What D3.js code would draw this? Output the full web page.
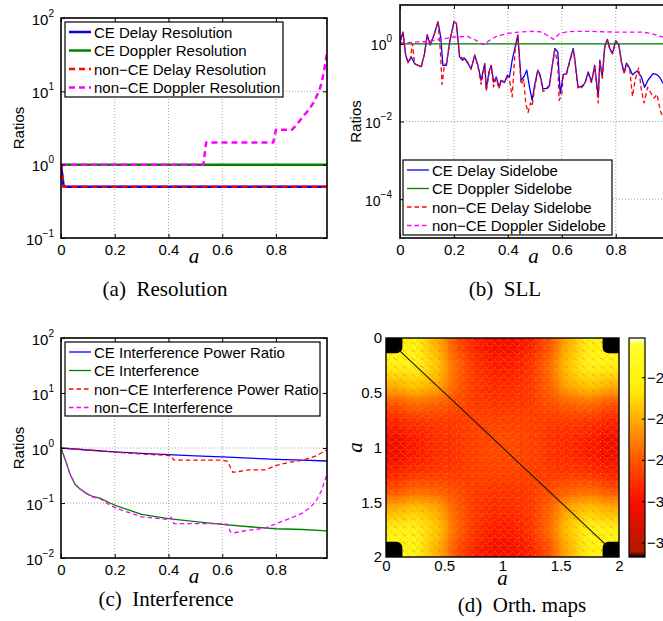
<!DOCTYPE html>
<html>
<head>
<meta charset="utf-8">
<script src="https://cdn.jsdelivr.net/npm/d3@7"></script>
<style>
  body { margin: 0; background: #fff; }
  svg { display: block; }
</style>
</head>
<body>
<script>
// ---------- data ----------
const aTicks = [0, 0.2, 0.4, 0.6, 0.8];

// (a) Resolution
const resDelayA = [0, 0.01, 0.99];
const ceDelayRes = [1, 0.5, 0.5];
const nonCeDelayRes = [1, 0.5, 0.5];
const ceDopplerResA = [0, 0.99];
const ceDopplerRes = [1, 1];
const nonCeDopplerResA = [0, 0.53, 0.54, 0.79, 0.80, 0.86, 0.88, 0.90, 0.92, 0.94, 0.96, 0.97, 0.98, 0.99];
const nonCeDopplerRes = [1, 1, 2, 2, 3, 3, 3.6, 4.5, 5.5, 7, 10, 13, 20, 33];

// (b) SLL
const ceDelaySllA = [
  0, .011, .021, .030, .042, .054, .067, .079, .091, .101,
  .112, .128, .141, .151, .159, .172, .184, .200, .209, .221,
  .231, .240, .252, .264, .277, .289, .301, .314, .320, .330,
  .338, .347, .357, .367, .375, .388, .398, .406, .416, .427,
  .437, .449, .459, .470, .480, .490, .499, .511, .520, .530,
  .542, .554, .564, .574, .585, .594, .605, .617, .630, .642,
  .648, .660, .673, .685, .698, .710, .722, .735, .741, .750,
  .759, .769, .778, .788, .800, .812, .821, .831, .840, .852,
  .862, .879, .895, .907, .920, .938, .953, .963, .974, .990];
const ceDelaySll = [
  1.1, 2.0, 0.51, 0.34, 0.46, 0.31, 0.28, 0.26, 0.56, 1.7,
  0.93, 1.85, 3.7, 1.5, 0.28, 0.28, 1.1, 3.7, 3.4, 0.46,
  0.38, 0.42, 0.31, 0.23, 0.51, 0.28, 0.115, 0.31, 0.07, 0.19,
  0.28, 0.104, 0.14, 0.078, 0.115, 0.104, 0.155, 0.14, 0.38, 0.83,
  1.7, 0.115, 0.14, 0.21, 0.078, 0.035, 0.085, 0.21, 0.155, 0.07,
  0.07, 0.085, 0.26, 0.76, 0.62, 0.052, 0.16, 0.17, 0.38, 0.76,
  0.42, 0.076, 0.08, 0.096, 0.19, 0.105, 0.28, 0.044, 0.38, 0.14,
  0.85, 1.3, 0.76, 0.57, 1.2, 0.93, 0.35, 0.18, 0.32, 0.23,
  0.16, 0.20, 0.14, 0.076, 0.117, 0.17, 0.16, 0.137, 0.10, 0.08];
const ceDopplerSllA = [0, 0.99];
const ceDopplerSll = [1, 1];
const nonCeDelaySllA = [
  0, .011, .021, .030, .038, .046, .054, .067, .079, .091,
  .101, .112, .128, .141, .150, .156, .165, .172, .184, .200,
  .209, .221, .231, .240, .252, .264, .277, .289, .301, .314,
  .320, .330, .338, .347, .357, .367, .375, .388, .398, .406,
  .416, .427, .437, .449, .459, .466, .475, .484, .490, .499,
  .511, .520, .530, .542, .554, .564, .574, .585, .590, .600,
  .605, .617, .630, .642, .648, .660, .673, .685, .698, .710,
  .722, .735, .741, .750, .759, .769, .778, .788, .800, .812,
  .821, .831, .840, .852, .862, .872, .885, .895, .905, .918,
  .930, .942, .953, .965, .974, .990];
const nonCeDelaySll = [
  1.1, 2.0, 0.5, 0.32, 0.4, 1.0, 0.3, 0.28, 0.26, 0.56,
  1.7, 0.93, 1.85, 3.7, 0.6, 0.09, 0.3, 0.3, 1.1, 3.7,
  3.4, 0.5, 0.42, 0.45, 0.33, 0.22, 0.51, 0.26, 0.09, 0.31,
  0.06, 0.17, 0.28, 0.078, 0.13, 0.07, 0.11, 0.1, 0.14, 0.12,
  0.043, 0.7, 1.6, 0.09, 0.12, 0.03, 0.017, 0.03, 0.025, 0.07,
  0.2, 0.14, 0.06, 0.065, 0.08, 0.25, 0.7, 0.3, 0.035, 0.05,
  0.15, 0.16, 0.35, 0.7, 0.38, 0.07, 0.075, 0.09, 0.17, 0.1,
  0.25, 0.03, 0.35, 0.13, 0.8, 1.3, 0.7, 0.55, 1.2, 0.9,
  0.33, 0.17, 0.3, 0.21, 0.044, 0.12, 0.24, 0.065, 0.03, 0.076,
  0.055, 0.04, 0.05, 0.019, 0.014, 0.009];
const nonCeDopplerSllA = [0, .05, .10, .15, .20, .25, .28, .31, .33, .36, .40, .44, .48, .52, .55, .57, .59, .62, .66, .70, .75, .80, .85, .90, .93, .96, .99];
const nonCeDopplerSll = [1.05, 1.1, 1.15, 1.3, 1.5, 1.55, 1.25, 0.95, 1.2, 1.6, 1.85, 2.0, 2.1, 2.05, 1.6, 1.3, 1.8, 2.05, 2.1, 2.1, 2.05, 2.0, 2.0, 2.0, 1.85, 1.6, 1.4];

// (c) Interference
const cePowerRatioA = [0, 0.1, 0.2, 0.3, 0.4, 0.5, 0.6, 0.7, 0.8, 0.9, 0.99];
const cePowerRatio = [1.0, 0.92, 0.85, 0.80, 0.76, 0.72, 0.69, 0.655, 0.62, 0.60, 0.58];
const ceInterfA = [0, .021, .033, .052, .071, .096, .114, .145, .182, .207, .3, .4, .5, .6, .7, .8, .9, .99];
const ceInterf = [1.0, 0.52, 0.34, 0.22, 0.18, 0.148, 0.134, 0.123, 0.10, 0.089, 0.062, 0.052, 0.046, 0.041, 0.037, 0.034, 0.033, 0.031];
const nonCePowerRatioA = [0, 0.1, 0.2, 0.3, 0.4, 0.41, 0.42, 0.5, 0.6, 0.62, 0.63, 0.64, 0.7, 0.76, 0.8, 0.85, 0.9, 0.95, 0.99];
const nonCePowerRatio = [1.0, 0.92, 0.84, 0.78, 0.73, 0.72, 0.6, 0.6, 0.6, 0.57, 0.45, 0.36, 0.40, 0.40, 0.48, 0.55, 0.60, 0.72, 0.93];
const nonCeInterfA = [0, .021, .033, .052, .071, .096, .114, .145, .182, .207, .3, .35, .4, .41, .42, .5, .6, .62, .63, .64, .7, .76, .8, .85, .9, .93, .95, .97, .99];
const nonCeInterf = [1.0, 0.52, 0.34, 0.22, 0.18, 0.148, 0.13, 0.12, 0.092, 0.08, 0.056, 0.053, 0.05, 0.055, 0.042, 0.042, 0.042, 0.041, 0.03, 0.0285, 0.032, 0.035, 0.042, 0.052, 0.066, 0.085, 0.11, 0.17, 0.34];

// (d) Orth. maps, coarse 12x12 reading (dB), rows a = 0 -> 2
const orthMap = [
  [-34, -23.5, -25.8, -28.3, -29.6, -30.3, -30.3, -29.6, -28.3, -25.8, -23.5, -34],
  [-23.5, -23.3, -25.2, -27.6, -29.1, -29.7, -29.7, -29.1, -27.6, -25.2, -23.3, -23.5],
  [-25.8, -25.2, -25.8, -27.8, -28.9, -29.3, -29.3, -28.9, -27.8, -25.8, -25.2, -25.8],
  [-28.3, -27.6, -27.8, -28.3, -28.9, -29.1, -29.1, -28.9, -28.3, -27.8, -27.6, -28.3],
  [-29.6, -29.1, -28.9, -28.9, -28.7, -28.7, -28.7, -28.7, -28.9, -28.9, -29.1, -29.6],
  [-30.5, -29.7, -29.3, -29.1, -28.7, -28.5, -28.5, -28.7, -29.1, -29.3, -29.7, -30.5],
  [-30.5, -29.7, -29.3, -29.1, -28.7, -28.5, -28.5, -28.7, -29.1, -29.3, -29.7, -30.5],
  [-29.6, -29.1, -28.9, -28.9, -28.7, -28.7, -28.7, -28.7, -28.9, -28.9, -29.1, -29.6],
  [-28.3, -27.6, -27.8, -28.3, -28.9, -29.1, -29.1, -28.9, -28.3, -27.8, -27.6, -28.3],
  [-25.8, -25.2, -25.8, -27.8, -28.9, -29.3, -29.3, -28.9, -27.8, -25.8, -25.2, -25.8],
  [-23.5, -23.3, -25.2, -27.6, -29.1, -29.7, -29.7, -29.1, -27.6, -25.2, -23.3, -23.5],
  [-34, -23.5, -25.8, -28.3, -29.6, -30.3, -30.3, -29.6, -28.3, -25.8, -23.5, -34]
];
const diagA = [0.1, 1.9];
const mapTicks = [0, 0.5, 1, 1.5, 2];
const cbDomain = [-32.7, -22.1];
const cbTicks = [-24, -26, -28, -30, -32];
const cbStops = [-32.7, -32.45, -30, -28, -26, -24.6, -22.4, -22.1];
const cbColors = ['#000000', '#b01800', '#ff0c00', '#ff5800', '#ffae00', '#ffee00', '#ffff30', '#ffffff'];

// ---------- drawing ----------
const W = 663, H = 621;
const sans = '"Liberation Sans", Arial, Helvetica, sans-serif';
const serif = '"Liberation Serif", "Times New Roman", serif';

const svg = d3.select('body').append('svg')
  .attr('width', W).attr('height', H)
  .style('font-family', sans);
svg.append('rect').attr('width', W).attr('height', H).attr('fill', '#fff');
const defs = svg.append('defs');

function expText(sel, e) {
  sel.text(null);
  sel.append('tspan').text('10');
  sel.append('tspan').attr('dy', -8).attr('font-size', 10)
    .text(e < 0 ? '\u2212' + (-e) : String(e));
}

function logPanel(p) {
  const x = d3.scaleLinear().domain([0, 0.99]).range([p.left, p.right]);
  const y = d3.scaleLog().domain(p.yDomain).range([p.bottom, p.top]);
  const g = svg.append('g');

  defs.append('clipPath').attr('id', 'clip-' + p.id).append('rect')
    .attr('x', p.left).attr('y', p.top)
    .attr('width', p.right - p.left).attr('height', p.bottom - p.top);

  // grid
  const grid = g.append('g').attr('stroke', '#8c8c8c').attr('stroke-width', 0.8)
    .attr('stroke-dasharray', '1 2');
  grid.selectAll('.gx').data(aTicks.filter(t => t > 0)).join('line')
    .attr('x1', d => x(d)).attr('x2', d => x(d)).attr('y1', p.top).attr('y2', p.bottom);
  grid.selectAll('.gy').data(p.yTicks.filter(t => t > p.yDomain[0] && t < p.yDomain[1])).join('line')
    .attr('y1', d => y(d)).attr('y2', d => y(d)).attr('x1', p.left).attr('x2', p.right);

  // series
  const line = d3.line().x(d => x(d[0])).y(d => y(d[1]));
  const plot = g.append('g').attr('clip-path', `url(#clip-${p.id})`);
  p.series.forEach(s => {
    plot.append('path').datum(d3.zip(s.a, s.v))
      .attr('d', line).attr('fill', 'none')
      .attr('stroke', s.color).attr('stroke-width', p.lw)
      .attr('stroke-dasharray', s.dash ? p.dash : null)
      .attr('stroke-linejoin', 'round');
  });

  // axes
  const bx = g.append('g').attr('transform', `translate(0,${p.bottom})`)
    .call(d3.axisBottom(x).tickValues(aTicks).tickSize(-4).tickSizeOuter(0).tickPadding(6)
      .tickFormat(d => d === 0 ? '0' : d3.format('.1f')(d)));
  bx.select('.domain').remove();
  bx.selectAll('text').attr('font-size', 15).attr('font-family', sans);
  g.append('g').attr('transform', `translate(0,${p.top})`)
    .call(d3.axisTop(x).tickValues(aTicks).tickSize(-4).tickSizeOuter(0).tickFormat(''))
    .call(a => a.select('.domain').remove());
  const ly = g.append('g').attr('transform', `translate(${p.left},0)`)
    .call(d3.axisLeft(y).tickValues(p.yTicks).tickSize(-4).tickSizeOuter(0).tickPadding(p.yPad));
  ly.select('.domain').remove();
  ly.selectAll('text').attr('font-size', p.yFont).attr('font-family', sans)
    .attr('dy', 6).each(function (d) { expText(d3.select(this), Math.round(Math.log10(d))); });
  g.append('g').attr('transform', `translate(${p.right},0)`)
    .call(d3.axisRight(y).tickValues(p.yTicks).tickSize(-4).tickSizeOuter(0).tickFormat(''))
    .call(a => a.select('.domain').remove());
  g.selectAll('.tick line').attr('stroke', '#000').attr('stroke-width', 1);

  g.append('rect').attr('x', p.left).attr('y', p.top)
    .attr('width', p.right - p.left).attr('height', p.bottom - p.top)
    .attr('fill', 'none').attr('stroke', '#000').attr('stroke-width', 1.6);

  // legend
  const L = p.legend;
  const lg = g.append('g');
  lg.append('rect').attr('x', L.x).attr('y', L.y).attr('width', L.w).attr('height', L.h)
    .attr('fill', '#fff').attr('stroke', '#000').attr('stroke-width', 1.2);
  p.series.forEach((s, i) => {
    const yy = L.y + 10 + i * 18.5;
    lg.append('line').attr('x1', L.x + 4).attr('x2', L.x + 26).attr('y1', yy).attr('y2', yy)
      .attr('stroke', s.color).attr('stroke-width', p.lw)
      .attr('stroke-dasharray', s.dash ? p.dash : null);
    lg.append('text').attr('x', L.x + 29).attr('y', yy + 5.5)
      .attr('font-size', 15).text(s.name);
  });

  // labels
  svg.append('text').attr('transform', `translate(${p.ylabX},${(p.top + p.bottom) / 2}) rotate(-90)`)
    .attr('text-anchor', 'middle').attr('font-size', 15).text('Ratios');
  svg.append('text').attr('x', (p.left + p.right) / 2).attr('y', p.xlabY)
    .attr('text-anchor', 'middle').attr('font-family', serif).attr('font-style', 'italic')
    .attr('font-size', 21).text('a');
  svg.append('text').attr('x', p.capX).attr('y', p.capY)
    .attr('text-anchor', 'middle').attr('font-family', serif).attr('font-size', 21)
    .style('white-space', 'pre').text(p.caption);
}

logPanel({
  id: 'a', left: 61, right: 327, top: 18, bottom: 238,
  yDomain: [0.1, 100], yTicks: [0.1, 1, 10, 100], yPad: 7, yFont: 15,
  lw: 2.5, dash: '6 4',
  series: [
    { name: 'CE Delay Resolution', a: resDelayA, v: ceDelayRes, color: '#0000ff' },
    { name: 'CE Doppler Resolution', a: ceDopplerResA, v: ceDopplerRes, color: '#008000' },
    { name: 'non\u2212CE Delay Resolution', a: resDelayA, v: nonCeDelayRes, color: '#ff0000', dash: true },
    { name: 'non\u2212CE Doppler Resolution', a: nonCeDopplerResA, v: nonCeDopplerRes, color: '#ff00ff', dash: true }
  ],
  legend: { x: 65, y: 22, w: 218, h: 75 },
  ylabX: 24, xlabY: 263, capX: 165, capY: 296, caption: '(a)  Resolution'
});

logPanel({
  id: 'b', left: 400, right: 667, top: 5, bottom: 238,
  yDomain: [1e-5, 10], yTicks: [1e-4, 1e-2, 1], yPad: 8, yFont: 14,
  lw: 1.3, dash: '4.5 3',
  series: [
    { name: 'CE Delay Sidelobe', a: ceDelaySllA, v: ceDelaySll, color: '#0000ff' },
    { name: 'CE Doppler Sidelobe', a: ceDopplerSllA, v: ceDopplerSll, color: '#008000' },
    { name: 'non\u2212CE Delay Sidelobe', a: nonCeDelaySllA, v: nonCeDelaySll, color: '#ff0000', dash: true },
    { name: 'non\u2212CE Doppler Sidelobe', a: nonCeDopplerSllA, v: nonCeDopplerSll, color: '#ff00ff', dash: true }
  ],
  legend: { x: 403, y: 160, w: 209, h: 75 },
  ylabX: 361, xlabY: 263, capX: 505, capY: 296, caption: '(b)  SLL'
});

logPanel({
  id: 'c', left: 61, right: 327, top: 338, bottom: 558,
  yDomain: [0.01, 100], yTicks: [0.01, 0.1, 1, 10, 100], yPad: 7, yFont: 15,
  lw: 1.3, dash: '4.5 3',
  series: [
    { name: 'CE Interference Power Ratio', a: cePowerRatioA, v: cePowerRatio, color: '#0000ff' },
    { name: 'CE Interference', a: ceInterfA, v: ceInterf, color: '#008000' },
    { name: 'non\u2212CE Interference Power Ratio', a: nonCePowerRatioA, v: nonCePowerRatio, color: '#ff0000', dash: true },
    { name: 'non\u2212CE Interference', a: nonCeInterfA, v: nonCeInterf, color: '#ff00ff', dash: true }
  ],
  legend: { x: 65, y: 342, w: 255, h: 74 },
  ylabX: 24, xlabY: 583, capX: 166, capY: 606, caption: '(c)  Interference'
});

// ---------- (d) heat map ----------
(function () {
  const L = 386, R = 619, T = 338, B = 557, pad = 30;
  const mx = d3.scaleLinear().domain([0, 2]).range([L, R]);
  const my = d3.scaleLinear().domain([0, 2]).range([T, B]);
  const nR = orthMap.length, nC = orthMap[0].length;
  const col = d3.scaleBand().domain(d3.range(nC)).range([L, R]);
  const row = d3.scaleBand().domain(d3.range(nR)).range([T, B]);
  const color = d3.scaleLinear().domain(cbStops).range(cbColors).clamp(true);

  defs.append('clipPath').attr('id', 'clip-d').append('rect')
    .attr('x', L).attr('y', T).attr('width', R - L).attr('height', B - T);
  defs.append('filter').attr('id', 'soft')
    .attr('filterUnits', 'userSpaceOnUse')
    .attr('x', L - pad).attr('y', T - pad).attr('width', R - L + 2 * pad).attr('height', B - T + 2 * pad)
    .append('feGaussianBlur').attr('stdDeviation', 7);

  // speckle texture
  const pat = defs.append('pattern').attr('id', 'speck').attr('patternUnits', 'userSpaceOnUse')
    .attr('width', 9).attr('height', 8);
  pat.append('path').attr('d', 'M0,0L9,8').attr('stroke', '#ffa000').attr('stroke-width', 0.8).attr('opacity', 0.4);
  [[6, 1, '#ffe000', 0.6], [2, 5, '#ff9800', 0.5], [7, 6, '#c80000', 0.4], [4, 2, '#ffc000', 0.4], [0, 7, '#ff7000', 0.5]]
    .forEach(([px, py, c, o]) => pat.append('rect').attr('x', px).attr('y', py)
      .attr('width', 1).attr('height', 1).attr('fill', c).attr('opacity', o));

  const cells = [];
  orthMap.forEach((r, i) => r.forEach((v, j) => cells.push({ i, j, v, nb: r[j === 0 ? 1 : j - 1] })));
  const cx = d => col(d.j) - (d.j === 0 ? pad : 0);
  const cy = d => row(d.i) - (d.i === 0 ? pad : 0);
  const cw = d => col.bandwidth() + 0.5 + (d.j === 0 || d.j === nC - 1 ? pad : 0);
  const ch = d => row.bandwidth() + 0.5 + (d.i === 0 || d.i === nR - 1 ? pad : 0);

  const hg = svg.append('g').attr('clip-path', 'url(#clip-d)');
  hg.append('g').attr('filter', 'url(#soft)')
    .selectAll('rect').data(cells).join('rect')
    .attr('x', cx).attr('y', cy).attr('width', cw).attr('height', ch)
    .attr('fill', d => color(d.v < cbDomain[0] ? d.nb : d.v));
  hg.append('rect').attr('x', L).attr('y', T).attr('width', R - L).attr('height', B - T)
    .attr('fill', 'url(#speck)');
  hg.selectAll('.blob').data(cells.filter(d => d.v < cbDomain[0])).join('rect')
    .attr('x', d => col(d.j) + (d.j === 0 ? -4 : 3)).attr('y', d => row(d.i) + (d.i === 0 ? -4 : 3))
    .attr('width', col.bandwidth() + 1).attr('height', row.bandwidth() + 1)
    .attr('rx', 6).attr('fill', '#000');
  hg.append('line')
    .attr('x1', mx(diagA[0])).attr('y1', my(diagA[0]))
    .attr('x2', mx(diagA[1])).attr('y2', my(diagA[1]))
    .attr('stroke', '#1a1a00').attr('stroke-width', 1.1);

  svg.append('rect').attr('x', L).attr('y', T).attr('width', R - L).attr('height', B - T)
    .attr('fill', 'none').attr('stroke', '#000').attr('stroke-width', 1.4);

  const ax = svg.append('g').attr('transform', `translate(0,${B})`)
    .call(d3.axisBottom(mx).tickValues(mapTicks).tickSize(0).tickPadding(3).tickFormat(d => String(d)));
  ax.select('.domain').remove();
  ax.selectAll('text').attr('font-size', 15).attr('font-family', sans);
  const ay = svg.append('g').attr('transform', `translate(${L},0)`)
    .call(d3.axisLeft(my).tickValues(mapTicks).tickSize(0).tickPadding(4).tickFormat(d => String(d)));
  ay.select('.domain').remove();
  ay.selectAll('text').attr('font-size', 15).attr('font-family', sans);

  svg.append('text').attr('x', (L + R) / 2).attr('y', 585)
    .attr('text-anchor', 'middle').attr('font-family', serif).attr('font-style', 'italic')
    .attr('font-size', 21).text('a');
  svg.append('text').attr('transform', `translate(362,${(T + B) / 2}) rotate(-90)`)
    .attr('text-anchor', 'middle').attr('font-family', serif).attr('font-style', 'italic')
    .attr('font-size', 21).text('a');

  // colorbar
  const cL = 629, cR = 645;
  const cb = d3.scaleLinear().domain(cbDomain).range([B, T]);
  svg.append('g').selectAll('rect').data(d3.range(T, B)).join('rect')
    .attr('x', cL).attr('y', d => d).attr('width', cR - cL).attr('height', 1.2)
    .attr('fill', d => color(cb.invert(d + 0.5)));
  svg.append('rect').attr('x', cL).attr('y', T).attr('width', cR - cL).attr('height', B - T)
    .attr('fill', 'none').attr('stroke', '#000').attr('stroke-width', 1.2);
  const cax = svg.append('g').attr('transform', `translate(${cR},0)`)
    .call(d3.axisRight(cb).tickValues(cbTicks).tickSize(-3).tickSizeOuter(0).tickPadding(2));
  cax.select('.domain').remove();
  cax.selectAll('text').attr('font-size', 15).attr('font-family', sans);
  cax.selectAll('.tick line').attr('stroke', '#000');

  svg.append('text').attr('x', 522).attr('y', 612)
    .attr('text-anchor', 'middle').attr('font-family', serif).attr('font-size', 21)
    .style('white-space', 'pre').text('(d)  Orth. maps');
})();
</script>
</body>
</html>
